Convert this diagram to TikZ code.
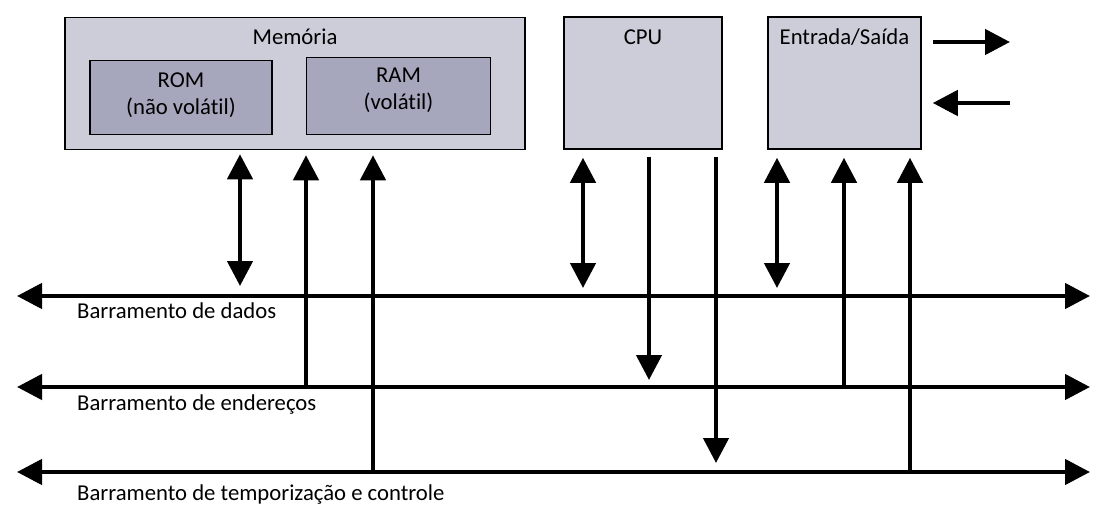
\documentclass[tikz,border=0pt]{standalone}
\usepackage{fontspec}
\setmainfont{Carlito}[Ligatures=CommonOff]
\usetikzlibrary{arrows.meta}
\definecolor{unitLight}{HTML}{CDCDDA}
\definecolor{unitDark}{HTML}{A6A6BC}

\begin{document}
\begin{tikzpicture}[x=1pt,y=-1pt,
  every node/.style={font=\fontsize{22.7}{27}\selectfont,inner sep=0pt},
  unit/.style={draw,line width=1.5pt,fill=unitLight},
  part/.style={draw,line width=1.5pt,fill=unitDark},
  oneway/.style={line width=4.5pt,-{Triangle[length=25pt,width=25pt]}},
  twoway/.style={line width=4.5pt,{Triangle[length=25pt,width=25pt]}-{Triangle[length=25pt,width=25pt]}}]
\useasboundingbox (0,0) rectangle (1112,519);
\node[unit,minimum width=460,minimum height=132] (mem) at (295,83.5) {};
\node[part,minimum width=182,minimum height=74] (rom) at (181,97.5) {};
\node[part,minimum width=184,minimum height=77] (ram) at (398.5,96) {};
\node[unit,minimum width=158,minimum height=132] (cpu) at (643,83) {};
\node[unit,minimum width=153,minimum height=132] (io) at (844.5,83) {};
\node[anchor=base] (memtxt) at (295,45) {Memória};
\node[align=center,anchor=base] (romtxt) at (181,114) {ROM\\(não volátil)};
\node[align=center,anchor=base] (ramtxt) at (398.5,110) {RAM\\(volátil)};
\node[anchor=base] (cputxt) at (643,45) {CPU};
\node[anchor=base] (iotxt) at (844.5,45) {Entrada/Saída};
\coordinate (datL) at (17,296);
\coordinate (datR) at (1090,296);
\coordinate (endL) at (17,387);
\coordinate (endR) at (1090,387);
\coordinate (ctlL) at (17,472);
\coordinate (ctlR) at (1090,472);
\draw[twoway] (datL) -- (datR);
\draw[twoway] (endL) -- (endR);
\draw[twoway] (ctlL) -- (ctlR);
\node[anchor=base west] (dattxt) at (77,318) {Barramento de dados};
\node[anchor=base west] (endtxt) at (77,410) {Barramento de endereços};
\node[anchor=base west] (ctltxt) at (77,500) {Barramento de temporização e controle};
\foreach \n/\x in {m1/240,m2/306,m3/373,c1/583,c2/649,c3/716,s1/777,s2/844,s3/910}
  \coordinate (\n) at (\x,0);
\draw[twoway,shorten <=4pt,shorten >=10pt] (m1 |- mem.south) -- (m1 |- datL);
\draw[oneway,shorten >=5pt] (m2 |- endL) -- (m2 |- mem.south);
\draw[oneway,shorten >=5pt] (m3 |- ctlL) -- (m3 |- mem.south);
\draw[twoway,shorten <=8pt,shorten >=8pt] (c1 |- cpu.south) -- (c1 |- datL);
\draw[oneway,shorten <=7pt,shorten >=7pt] (c2 |- cpu.south) -- (c2 |- endL);
\draw[oneway,shorten <=7pt,shorten >=9pt] (c3 |- cpu.south) -- (c3 |- ctlL);
\draw[twoway,shorten <=8pt,shorten >=8pt] (s1 |- io.south) -- (s1 |- datL);
\draw[oneway,shorten >=8pt] (s2 |- endL) -- (s2 |- io.south);
\draw[oneway,shorten >=8pt] (s3 |- ctlL) -- (s3 |- io.south);
\coordinate (outE) at (1010,42);
\coordinate (inE) at (1010,103);
\draw[oneway,shorten <=11pt] (outE -| io.east) -- (outE);
\draw[oneway,shorten >=11pt] (inE) -- (inE -| io.east);
\end{tikzpicture}
\end{document}
